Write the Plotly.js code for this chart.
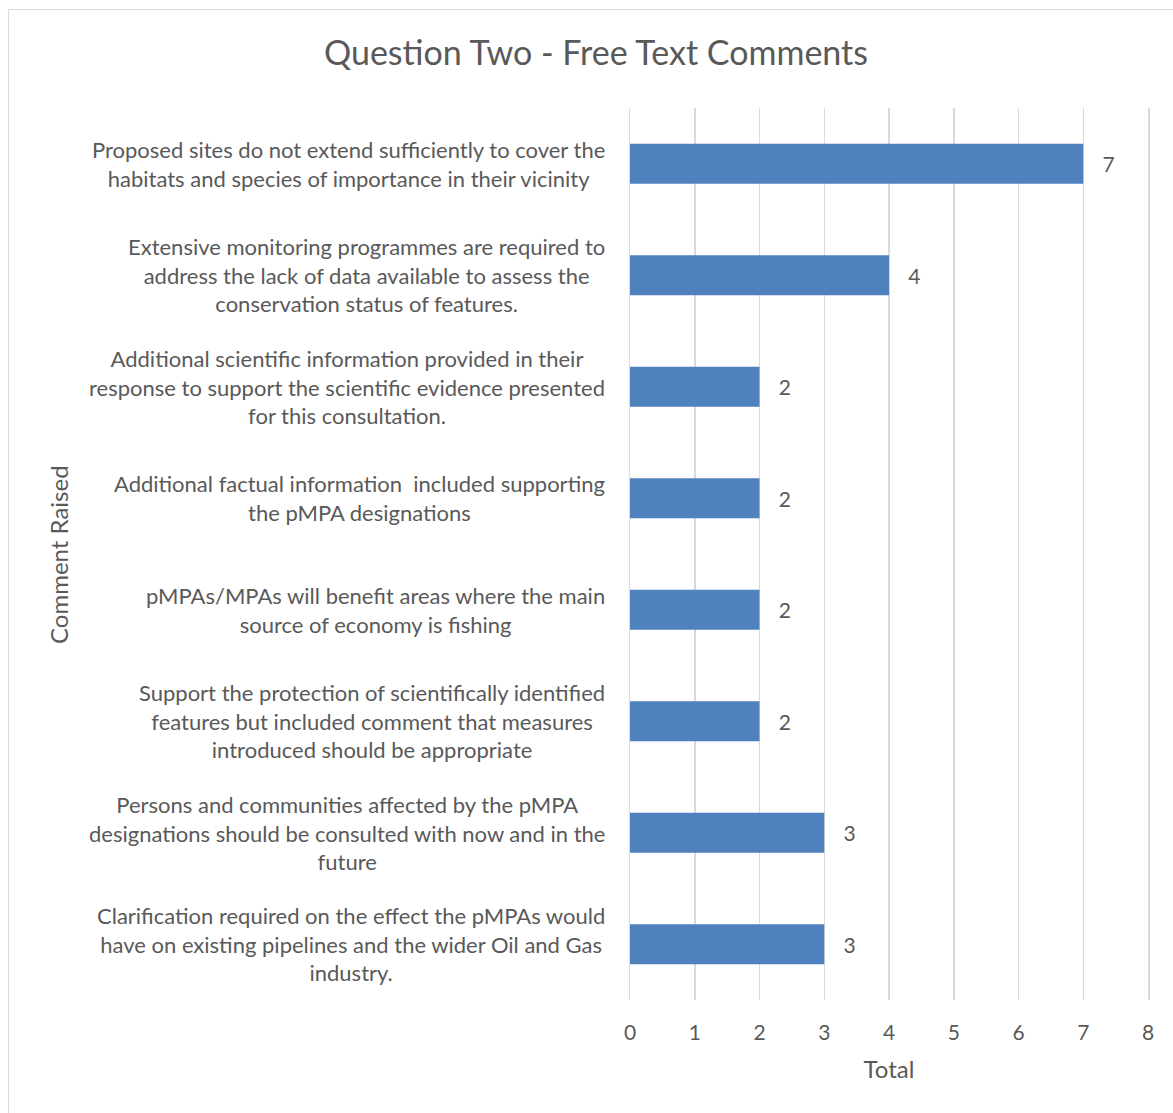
<!DOCTYPE html>
<html>
<head>
<meta charset="utf-8">
<script src="https://cdn.plot.ly/plotly-3.0.1.min.js"></script>
<style>
  html, body { margin: 0; padding: 0; background: #fff; }
  #chart { width: 1173px; height: 1113px; }
</style>
</head>
<body>
<div id="chart"></div>
<script>
const categories = [
  "Proposed sites do not extend sufficiently to cover the<br>habitats and species of importance in their vicinity",
  "Extensive monitoring programmes are required to<br>address the lack of data available to assess the<br>conservation status of features.",
  "Additional scientific information provided in their<br>response to support the scientific evidence presented<br>for this consultation.",
  "Additional factual information  included supporting<br>the pMPA designations",
  "pMPAs/MPAs will benefit areas where the main<br>source of economy is fishing",
  "Support the protection of scientifically identified<br>features but included comment that measures<br>introduced should be appropriate",
  "Persons and communities affected by the pMPA<br>designations should be consulted with now and in the<br>future",
  "Clarification required on the effect the pMPAs would<br>have on existing pipelines and the wider Oil and Gas<br>industry."
];
const totals = [7, 4, 2, 2, 2, 2, 3, 3];
const xTicks = [0, 1, 2, 3, 4, 5, 6, 7, 8];

const W = 1173, H = 1113;
const L = 630, R = 25, T = 108, B = 113;
const plotW = W - L - R, plotH = H - T - B;
const px2paperX = p => (p - L) / plotW;
const px2paperY = p => 1 - (p - T) / plotH;

const FONT = "Lato, 'Open Sans', sans-serif";
const GREY = "#595959";
const GRID = "#D9D9D9";

const annotations = categories.map(c => ({
  x: px2paperX(607), xref: "paper", xanchor: "right",
  y: c, yref: "y", yanchor: "middle",
  text: c, align: "center", showarrow: false,
  font: { family: FONT, size: 22, color: GREY }
}));
annotations.push({
  x: px2paperX(58), xref: "paper", xanchor: "center",
  y: px2paperY(555), yref: "paper", yanchor: "middle",
  text: "Comment Raised", textangle: -90, showarrow: false,
  font: { family: FONT, size: 24, color: GREY }
});

const trace = {
  type: "bar", orientation: "h",
  x: totals, y: categories,
  marker: { color: "#4F81BD" },
  texttemplate: "\u00a0\u00a0\u00a0%{x}",
  textposition: "outside",
  cliponaxis: false,
  textfont: { family: FONT, size: 21, color: GREY },
  hoverinfo: "skip"
};

const layout = {
  width: W, height: H,
  margin: { l: L, r: R, t: T, b: B },
  paper_bgcolor: "#fff", plot_bgcolor: "#fff",
  showlegend: false,
  bargap: 0.64,
  font: { family: FONT, color: GREY },
  title: {
    text: "Question Two - Free Text Comments",
    x: 596 / W, xref: "container", xanchor: "center",
    y: 1 - 53 / H, yref: "container", yanchor: "middle",
    font: { family: FONT, size: 34, color: GREY }
  },
  xaxis: {
    range: [0, 8], tickvals: xTicks, ticktext: xTicks.map(String),
    showgrid: true, gridcolor: GRID, gridwidth: 1.5,
    zeroline: false, showline: false, ticks: "",
    tickfont: { family: FONT, size: 21, color: GREY },
    ticklabelstandoff: 18,
    title: { text: "Total", font: { family: FONT, size: 24, color: GREY }, standoff: 18 },
    fixedrange: true
  },
  yaxis: {
    type: "category", autorange: "reversed",
    showticklabels: false, showgrid: false, zeroline: false,
    showline: true, mirror: true, linecolor: GRID, linewidth: 1.5, ticks: "",
    fixedrange: true
  },
  annotations: annotations,
  shapes: [{
    type: "rect", xref: "paper", yref: "paper",
    x0: px2paperX(8.5), x1: px2paperX(1200),
    y0: px2paperY(9.5), y1: px2paperY(1200),
    line: { color: GRID, width: 1 }, fillcolor: "rgba(0,0,0,0)", layer: "below"
  }]
};

Plotly.newPlot("chart", [trace], layout, { displayModeBar: false, staticPlot: true });
</script>
</body>
</html>
